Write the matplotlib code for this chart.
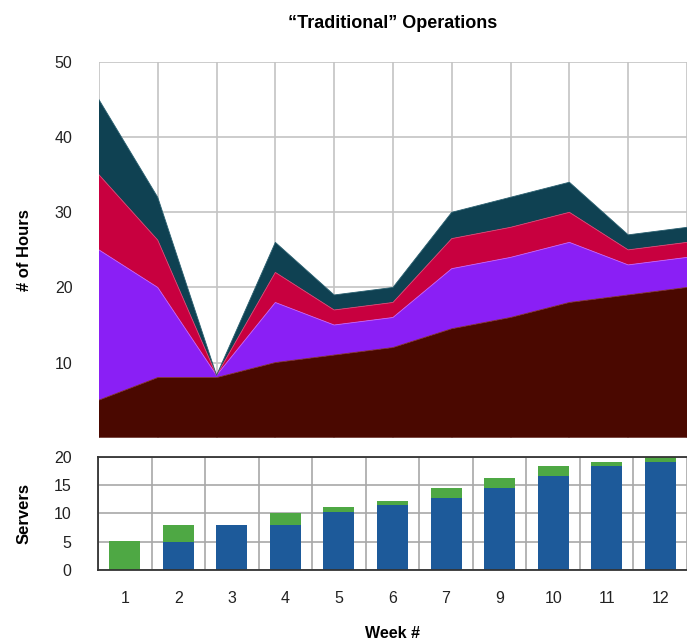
import matplotlib
matplotlib.use("Agg")
import matplotlib.pyplot as plt
import numpy as np

plt.rcParams['font.family'] = ['Liberation Sans', 'DejaVu Sans']

weeks = ["1", "2", "3", "4", "5", "6", "7", "9", "10", "11", "12"]

# Stacked hours (layers from bottom to top)
hours_brown = [5, 8, 8, 10, 11, 12, 14.5, 16, 18, 19, 20]
hours_purple = [20, 12, 0.3, 8, 4, 4, 8, 8, 8, 4, 4]
hours_crimson = [10, 6.3, 0, 4, 2, 2, 4, 4, 4, 2, 2]
hours_teal = [10, 5.7, 0, 4, 2, 2, 3.5, 4, 4, 2, 2]

# Servers
servers_blue = [0, 5, 8, 8, 10.3, 11.4, 12.7, 14.4, 16.5, 18.3, 19.1]
servers_green = [5.2, 3, 0, 2, 0.9, 0.8, 1.7, 1.8, 1.8, 0.8, 0.9]

hour_ticks = [10, 20, 30, 40, 50]
server_ticks = [0, 5, 10, 15, 20]

fig = plt.figure(figsize=(6.87, 6.44), dpi=100)

ax1 = fig.add_axes([0.144, 0.3203, 0.856, 0.5834])
ax2 = fig.add_axes([0.1426, 0.1149, 0.8574, 0.176])

x = np.arange(len(weeks))
layers = [hours_brown, hours_purple, hours_crimson, hours_teal]
colors = ['#4a0800', '#8a1ff5', '#c8003f', '#0f4152']
edges = ['#7a2a20', '#c060ff', '#e04070', '#2a6070']
base = np.zeros(len(weeks))
for vals, c, ec in zip(layers, colors, edges):
    top = base + np.array(vals)
    ax1.fill_between(x, base, top, facecolor=c, edgecolor='none', zorder=2)
    ax1.plot(x, top, color=ec, lw=0.6, zorder=3)
    base = top

ax1.set_xlim(0, len(weeks) - 1)
ax1.set_ylim(0, 50)
ax1.set_yticks(hour_ticks)
ax1.set_xticks(x)
ax1.set_xticklabels([])
ax1.grid(True, color='#c4c4c4', lw=1.2, zorder=0)
ax1.set_axisbelow(True)
ax1.tick_params(length=0, labelsize=11.5, pad=19, colors='#222222')
for s in ax1.spines.values():
    s.set_visible(False)
ax1.set_ylabel("# of Hours", fontsize=12, fontweight='bold', labelpad=16)
ax1.set_title("\u201cTraditional\u201d Operations", fontsize=13, fontweight='bold', pad=24.5)

# Bottom chart
ax2.bar(x, servers_blue, width=0.58, color='#1d5a9a', zorder=2)
ax2.bar(x, servers_green, width=0.58, bottom=servers_blue, color='#4ea844', zorder=2)
ax2.set_xlim(-0.5, len(weeks) - 0.5)
ax2.set_ylim(0, 20)
ax2.set_yticks(server_ticks)
ax2.set_xticks(x)
ax2.set_xticklabels(weeks)
ax2.set_xticks(np.arange(-0.5, len(weeks), 1), minor=True)
ax2.grid(False)
ax2.grid(True, which='minor', axis='x', color='#a8a8a8', lw=1.2, zorder=0)
ax2.grid(True, which='major', axis='y', color='#a8a8a8', lw=1.2, zorder=0)
ax2.set_axisbelow(True)
ax2.tick_params(which='both', length=0, labelsize=11.5, colors='#222222')
ax2.tick_params(axis='y', pad=19)
ax2.tick_params(axis='x', pad=15)
for side in ['left', 'top', 'bottom']:
    ax2.spines[side].set_color('#333333')
    ax2.spines[side].set_linewidth(1.3)
ax2.spines['right'].set_visible(False)
ax2.set_ylabel("Servers", fontsize=12, fontweight='bold', labelpad=16)
ax2.set_xlabel("Week #", fontsize=11.5, fontweight='bold', labelpad=14.5)

fig.savefig("out.png", dpi=100, facecolor='white')
